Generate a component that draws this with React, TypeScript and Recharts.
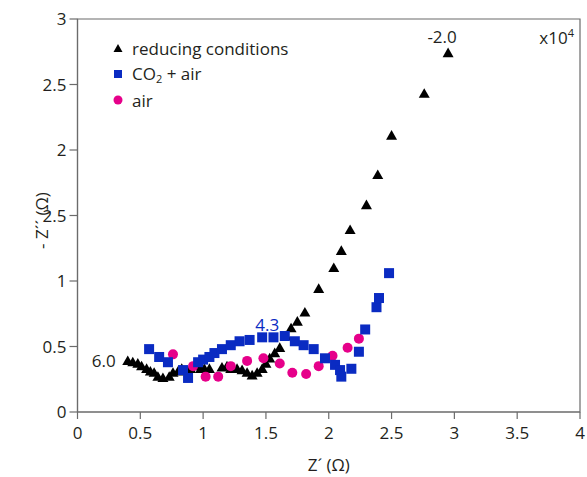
import React from 'react';
import { ScatterChart, Scatter, XAxis, YAxis, ReferenceArea, ReferenceDot, Legend } from 'recharts';

// Z' and -Z'' in units of 1e4 ohm
const reducingZre = [
  0.40, 0.44, 0.48, 0.51, 0.55, 0.58, 0.61, 0.64, 0.68, 0.73, 0.76, 0.80, 0.83,
  0.90, 0.94, 0.98, 1.01, 1.05, 1.15, 1.19, 1.22, 1.27, 1.31, 1.35, 1.39, 1.43,
  1.47, 1.50, 1.53, 1.57, 1.61, 1.66, 1.70, 1.75, 1.81, 1.92, 2.04, 2.10, 2.17,
  2.30, 2.39, 2.50, 2.76, 2.95,
];
const reducingZim = [
  0.39, 0.38, 0.37, 0.35, 0.33, 0.31, 0.30, 0.27, 0.26, 0.27, 0.30, 0.31, 0.33,
  0.33, 0.35, 0.33, 0.33, 0.33, 0.34, 0.35, 0.33, 0.33, 0.32, 0.30, 0.28, 0.30,
  0.33, 0.37, 0.41, 0.45, 0.49, 0.58, 0.64, 0.69, 0.76, 0.94, 1.10, 1.23, 1.39,
  1.58, 1.81, 2.11, 2.43, 2.74,
];

const co2Zre = [
  0.57, 0.65, 0.72, 0.84, 0.88, 0.96, 1.00, 1.05, 1.09, 1.15, 1.22, 1.29, 1.37,
  1.47, 1.56, 1.65, 1.73, 1.80, 1.88, 1.97, 2.05, 2.09, 2.10, 2.18, 2.24, 2.29,
  2.38, 2.40, 2.48,
];
const co2Zim = [
  0.48, 0.42, 0.38, 0.32, 0.26, 0.38, 0.40, 0.42, 0.45, 0.48, 0.51, 0.54, 0.55,
  0.57, 0.57, 0.58, 0.54, 0.51, 0.48, 0.41, 0.36, 0.32, 0.27, 0.33, 0.46, 0.63,
  0.80, 0.87, 1.06,
];

const airZre = [0.76, 0.92, 1.02, 1.12, 1.22, 1.35, 1.48, 1.61, 1.71, 1.82, 1.92, 2.03, 2.15, 2.24];
const airZim = [0.44, 0.35, 0.27, 0.27, 0.35, 0.39, 0.41, 0.37, 0.30, 0.29, 0.35, 0.43, 0.49, 0.56];

const xTicks = [0, 0.5, 1, 1.5, 2, 2.5, 3, 3.5, 4];
const yTicks = [0, 0.5, 1, 1.5, 2, 2.5, 3];
// labels as printed on the original figure
const yTickLabels = ['0', '0.5', '1', '2.5', '2', '2.5', '3'];

const zip = (xs: number[], ys: number[]) => xs.map((x, i) => ({ x, y: ys[i] }));

const reducing = zip(reducingZre, reducingZim);
const co2Air = zip(co2Zre, co2Zim);
const air = zip(airZre, airZim);

const BLACK = '#000000';
const BLUE = '#0a2bc2';
const MAGENTA = '#e6008a';
const AXIS = '#6b6b6b';
const TEXT = '#231f20';
const FONT = "'Open Sans', sans-serif";

const Triangle = ({ cx, cy, s = 5.5, fill = BLACK }: any) => (
  <polygon points={`${cx},${cy - s} ${cx + s},${cy + s * 0.75} ${cx - s},${cy + s * 0.75}`} fill={fill} />
);
const Square = ({ cx, cy, s = 5, fill = BLUE }: any) => (
  <rect x={cx - s} y={cy - s} width={2 * s} height={2 * s} fill={fill} />
);
const Dot = ({ cx, cy, s = 5, fill = MAGENTA }: any) => <circle cx={cx} cy={cy} r={s} fill={fill} />;

const legendItems = [
  { label: 'reducing conditions', kind: 'triangle' },
  { label: 'CO2 + air', kind: 'square' },
  { label: 'air', kind: 'circle' },
];

function LegendBox() {
  return (
    <div style={{ fontFamily: FONT, fontSize: 17, color: TEXT }}>
      {legendItems.map((item) => (
        <div key={item.label} style={{ display: 'flex', alignItems: 'center', height: 26 }}>
          <svg width={14} height={14} style={{ marginRight: 7 }}>
            {item.kind === 'triangle' && <Triangle cx={7} cy={7.5} s={4.5} />}
            {item.kind === 'square' && <Square cx={7} cy={7} s={4} />}
            {item.kind === 'circle' && <Dot cx={7} cy={7} s={4.5} />}
          </svg>
          {item.kind === 'square' ? (
            <span>
              CO<sub style={{ fontSize: 11, verticalAlign: -3 }}>2</sub> + air
            </span>
          ) : (
            <span>{item.label}</span>
          )}
        </div>
      ))}
    </div>
  );
}

export default function App() {
  const last = reducing[reducing.length - 1];
  return (
    <div style={{ position: 'absolute', left: 0, top: 0, background: '#fff' }}>
      <ScatterChart width={587} height={477} margin={{ top: 19, right: 7, bottom: 0, left: 27.5 }}>
        <ReferenceArea x1={0} x2={4} y1={0} y2={3} fill="none" stroke={AXIS} strokeWidth={1.2} />
        <XAxis
          type="number"
          dataKey="x"
          domain={[0, 4]}
          ticks={xTicks}
          height={65}
          tickSize={7}
          tickMargin={8}
          stroke={AXIS}
          strokeWidth={1.2}
          tick={{ fill: TEXT, fontSize: 17, fontFamily: FONT }}
          label={{
            content: ({ viewBox }: any) => (
              <text
                x={viewBox.x + viewBox.width / 2}
                y={viewBox.y + 59}
                textAnchor="middle"
                fill={TEXT}
                fontSize={17}
                fontFamily={FONT}
              >
                Z´ (Ω)
              </text>
            ),
          }}
        />
        <YAxis
          type="number"
          dataKey="y"
          domain={[0, 3]}
          ticks={yTicks}
          width={50}
          tickSize={8}
          tickMargin={3}
          stroke={AXIS}
          strokeWidth={1.2}
          tickFormatter={(v: number) => yTickLabels[yTicks.indexOf(v)] ?? String(v)}
          tick={{ fill: TEXT, fontSize: 17, fontFamily: FONT }}
          label={{
            content: ({ viewBox }: any) => {
              const x = viewBox.x + 13.5;
              const y = viewBox.y + viewBox.height / 2 + 5;
              return (
                <text
                  x={x}
                  y={y}
                  transform={`rotate(-90 ${x} ${y})`}
                  textAnchor="middle"
                  dominantBaseline="central"
                  fill={TEXT}
                  fontSize={17}
                  fontFamily={FONT}
                >
                  - Z´´ (Ω)
                </text>
              );
            },
          }}
        />
        <Legend
          layout="vertical"
          align="center"
          verticalAlign="middle"
          content={() => <LegendBox />}
          wrapperStyle={{ left: 111, top: 35, width: 'auto' }}
        />
        <Scatter name="reducing conditions" data={reducing} isAnimationActive={false} shape={(p: any) => <Triangle cx={p.cx} cy={p.cy} />} />
        <Scatter name="air" data={air} isAnimationActive={false} shape={(p: any) => <Dot cx={p.cx} cy={p.cy} />} />
        <Scatter name="CO2 + air" data={co2Air} isAnimationActive={false} shape={(p: any) => <Square cx={p.cx} cy={p.cy} />} />
        <ReferenceDot
          x={reducing[0].x}
          y={reducing[0].y}
          r={0}
          label={{ value: '6.0', position: 'left', offset: 12, fill: TEXT, fontSize: 17, fontFamily: FONT }}
        />
        <ReferenceDot
          x={co2Air[13].x}
          y={co2Air[13].y}
          r={0}
          label={{ value: '4.3', position: 'top', offset: 6, dx: 5, fill: BLUE, fontSize: 17, fontFamily: FONT }}
        />
        <ReferenceDot
          x={last.x}
          y={last.y}
          r={0}
          label={{ value: '-2.0', position: 'top', offset: 10, dx: -6, fill: TEXT, fontSize: 17, fontFamily: FONT }}
        />
        <ReferenceDot
          x={4}
          y={3}
          r={0}
          label={{
            content: ({ viewBox }: any) => (
              <text x={viewBox.x - 6} y={viewBox.y + 25} textAnchor="end" fill={TEXT} fontSize={17} fontFamily={FONT}>
                x10<tspan fontSize={11} dy={-7}>4</tspan>
              </text>
            ),
          }}
        />
      </ScatterChart>
    </div>
  );
}
